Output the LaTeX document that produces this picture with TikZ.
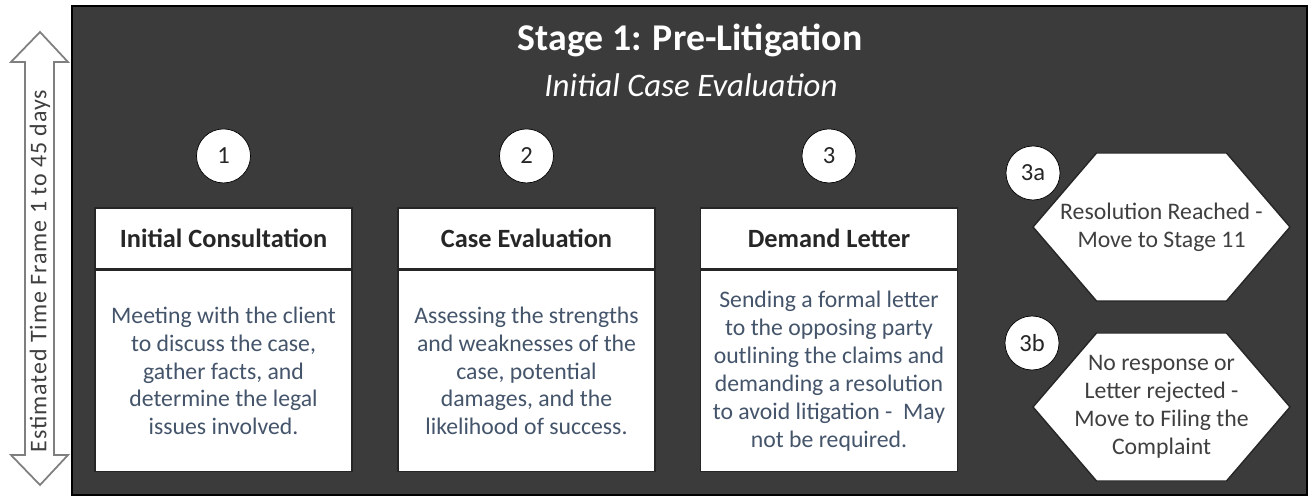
\documentclass[tikz,border=0pt]{standalone}
\usepackage{fontspec}
\setmainfont{Carlito}
\newfontfamily\spacedfont[LetterSpace=4]{Carlito}
\usetikzlibrary{positioning,calc}
\definecolor{panelgrey}{HTML}{3B3B3B}
\definecolor{slatetext}{HTML}{44546A}
\definecolor{arrowgrey}{HTML}{7F7F7F}
\definecolor{inkgrey}{HTML}{262626}
\definecolor{softink}{HTML}{3F3F3F}
\newcommand{\bodysize}{\fontsize{13.5}{15.9}\selectfont}

\begin{document}
\begin{tikzpicture}[
    stepnum/.style={circle, draw=black, fill=white, minimum size=1.08cm, inner sep=0pt, font=\fontsize{14}{16}\selectfont, text=inkgrey},
    headbox/.style={rectangle, draw=inkgrey, line width=0.8pt, fill=white, minimum width=5.14cm, minimum height=1.22cm, inner sep=0pt, font=\fontsize{15}{18}\selectfont\bfseries, text=inkgrey},
    bodybox/.style={rectangle, draw=inkgrey, line width=0.8pt, fill=white, minimum width=5.14cm, minimum height=4.02cm, inner sep=0pt, align=center, font=\bodysize, text=slatetext},
    hexline/.style={draw=inkgrey, line width=0.8pt, fill=white},
    hextext/.style={align=center, font=\bodysize, text=softink}
  ]
  \useasboundingbox (0,0) rectangle (26.22,-10);

  % dark panel
  \path[fill=panelgrey, draw=black, line width=0.8pt] (1.44,-0.12) rectangle (26.14,-9.90);

  % time frame arrow
  \draw[arrowgrey, fill=white, line width=1pt]
    (0.80,-0.64) -- (1.36,-1.24) -- (1.08,-1.24) -- (1.08,-9.10) -- (1.36,-9.10)
    -- (0.80,-9.70) -- (0.22,-9.10) -- (0.50,-9.10) -- (0.50,-1.24) -- (0.22,-1.24) -- cycle;
  \node[rotate=90, font=\spacedfont\fontsize{13.6}{16}\selectfont, text=softink] (timeframe) at (0.80,-5.42) {Estimated Time Frame 1 to 45 days};

  \path
  (13.80,-0.80) node[font=\fontsize{21.5}{26}\selectfont\bfseries, text=white](stage){Stage 1: Pre-Litigation}
  (13.82,-1.70) node[font=\fontsize{18.7}{22}\selectfont\itshape, text=white](subtitle){Initial Case Evaluation};

  \path
  (4.47,-4.77) node[headbox](head1){Initial Consultation}
  (10.53,-4.77) node[headbox](head2){Case Evaluation}
  (16.58,-4.77) node[headbox](head3){Demand Letter};

  \node[bodybox, below=0pt of head1](body1){Meeting with the client\\to discuss the case,\\gather facts, and\\determine the legal\\issues involved.};
  \node[bodybox, below=0pt of head2](body2){Assessing the strengths\\and weaknesses of the\\case, potential\\damages, and the\\likelihood of success.};
  \node[bodybox, below=0pt of head3](body3){Sending a formal letter\\to the opposing party\\outlining the claims and\\demanding a resolution\\to avoid litigation -\ \ May\\not be required.};

  \node[stepnum, above=0.48cm of head1](num1){1};
  \node[stepnum, above=0.48cm of head2](num2){2};
  \node[stepnum, above=0.48cm of head3](num3){3};

  % outcomes
  \coordinate (resolved) at (23.23,-4.54);
  \draw[hexline] ($(resolved)+(-2.57,0)$) -- ++(1.27,1.48) -- ++(2.60,0) -- ++(1.27,-1.48)
    -- ++(-1.27,-1.48) -- ++(-2.60,0) -- cycle;
  \node[hextext] (resolvedtext) at (resolved) {Resolution Reached -\\Move to Stage 11};

  \coordinate (rejected) at (23.23,-8.14);
  \draw[hexline] ($(rejected)+(-2.57,0)$) -- ++(1.27,1.48) -- ++(2.60,0) -- ++(1.27,-1.48)
    -- ++(-1.27,-1.48) -- ++(-2.60,0) -- cycle;
  \node[hextext] (rejectedtext) at (rejected) {No response or\\Letter rejected -\\Move to Filing the\\Complaint};

  \node[stepnum] (num3a) at (20.66,-3.46) {3a};
  \node[stepnum] (num3b) at (20.64,-6.86) {3b};
\end{tikzpicture}
\end{document}
